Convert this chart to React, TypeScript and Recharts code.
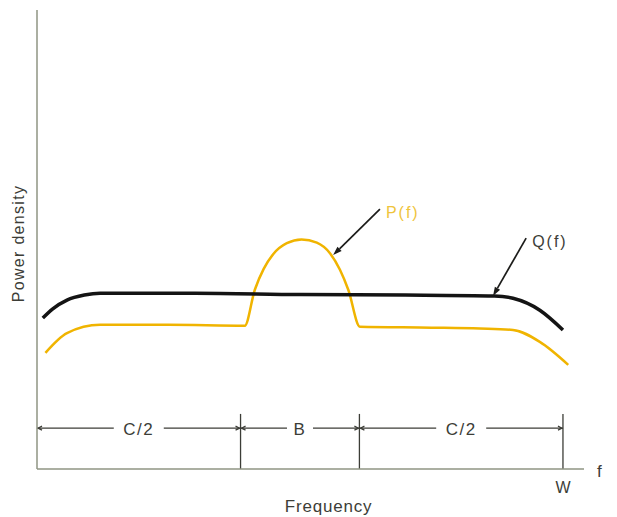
import { LineChart, Line, XAxis, YAxis, ReferenceLine, ReferenceDot } from 'recharts';

// Q(f): interference spread across the whole band
const qFreq = [1.1, 3, 5.7, 9, 12, 30, 50, 70, 87, 90.5, 95.6, 100];
const qPower = [32.9, 34.9, 36.8, 37.9, 38.3, 38.3, 38.0, 37.9, 37.7, 37.2, 34.6, 30.3];

// P(f): signal with a bump in the centre band
const pFreq = [1.6, 5.7, 12, 25, 39.5, 41.4, 43.1, 44.9, 47.5, 50.3, 53.2, 55.7, 57.6, 59.2, 61.4, 75, 84.2, 90.5, 95.6, 101];
const pPower = [25.3, 29.6, 31.4, 31.4, 31.2, 39.0, 43.6, 46.8, 49.2, 50.0, 49.3, 47.0, 43.4, 39.0, 31.0, 30.8, 30.6, 30.3, 27.7, 22.7];

// dimension line under the curves
const bandEdges = [0, 38.7, 61.3, 100];
const bandLabels = ['C/2', 'B', 'C/2'];
const bandLevel = 8.9;
const edgeTop = 12;

// callout arrows
const calloutLabels = ['P(f)', 'Q(f)'];
const calloutFrom = [[65.2, 56.6], [93.0, 50.3]];
const calloutTo = [[56.3, 46.6], [86.7, 37.7]];

const freqMax = 104;
const wTick = 100;

const INK = '#3c3d37';
const AXIS = '#8f9483';
const ORANGE = '#f0b400';
const FONT = '"Liberation Sans", Arial, sans-serif';

const qData = qFreq.map((f, i) => ({ f, p: qPower[i] }));
const pData = pFreq.map((f, i) => ({ f, p: pPower[i] }));

function BandSpan(props: any) {
  const { x1, y1, x2, text } = props;
  const mid = (x1 + x2) / 2;
  const half = 7 + text.length * 6;
  return (
    <g>
      <line x1={x1} y1={y1} x2={mid - half} y2={y1} stroke={INK} strokeWidth={1.3} />
      <line x1={mid + half} y1={y1} x2={x2} y2={y1} stroke={INK} strokeWidth={1.3} />
      <path d={`M${x1 + 5},${y1 - 2}L${x1 + 1},${y1}L${x1 + 5},${y1 + 2}`} fill="none" stroke={INK} strokeWidth={1.2} />
      <path d={`M${x2 - 5},${y1 - 2}L${x2 - 1},${y1}L${x2 - 5},${y1 + 2}`} fill="none" stroke={INK} strokeWidth={1.2} />
      <text x={mid} y={y1 + 1} textAnchor="middle" dominantBaseline="central" fill={INK}
        fontSize={17} letterSpacing={1.5} fontFamily={FONT}>{text}</text>
    </g>
  );
}

function Callout(props: any) {
  const { x1, y1, x2, y2, text, color } = props;
  const ang = Math.atan2(y2 - y1, x2 - x1);
  const len = 9;
  const w = 3;
  const bx = x2 - len * Math.cos(ang);
  const by = y2 - len * Math.sin(ang);
  const nx = -Math.sin(ang) * w;
  const ny = Math.cos(ang) * w;
  return (
    <g>
      <line x1={x1} y1={y1} x2={bx} y2={by} stroke="#1c1c1a" strokeWidth={1.7} />
      <polygon points={`${x2},${y2} ${bx + nx},${by + ny} ${bx - nx},${by - ny}`} fill="#1c1c1a" />
      <text x={x1 + 6} y={y1 + 3} dominantBaseline="central" fill={color}
        fontSize={16} letterSpacing={2} fontFamily={FONT}>{text}</text>
    </g>
  );
}

export default function App() {
  return (
    <div style={{ position: 'absolute', left: 0, top: 0, width: 617, height: 517, background: '#fff' }}>
      <LineChart width={617} height={517} margin={{ top: 10, right: 33, bottom: 47, left: 36 }}
        style={{ fontFamily: FONT }}>
        <XAxis type="number" dataKey="f" domain={[0, freqMax]} allowDataOverflow ticks={[wTick]}
          tickFormatter={() => 'W'} tickLine={false} height={1} tickMargin={7}
          tick={{ fill: INK, fontSize: 16 }} axisLine={{ stroke: AXIS, strokeWidth: 1.5 }}
          label={{ value: 'Frequency', position: 'center', dx: 18, dy: 36, fill: INK, fontSize: 17, letterSpacing: 0.8 }} />
        <YAxis type="number" domain={[0, 100]} allowDataOverflow width={1} tick={false} tickLine={false}
          axisLine={{ stroke: AXIS, strokeWidth: 1.5 }}
          label={{ value: 'Power density', angle: -90, position: 'center', dx: -18, dy: 4, fill: INK, fontSize: 16, letterSpacing: 1.3 }} />

        <Line data={pData} dataKey="p" type="monotone" stroke={ORANGE} strokeWidth={2.5}
          dot={false} activeDot={false} isAnimationActive={false} />
        <Line data={qData} dataKey="p" type="monotone" stroke="#141414" strokeWidth={3.5}
          dot={false} activeDot={false} isAnimationActive={false} />

        {bandLabels.map((text, i) => (
          <ReferenceLine key={`band-${i}`}
            segment={[{ x: bandEdges[i], y: bandLevel }, { x: bandEdges[i + 1], y: bandLevel }]}
            shape={(p: any) => <BandSpan {...p} text={text} />} />
        ))}
        {bandEdges.slice(1).map((x, i) => (
          <ReferenceLine key={`edge-${i}`} segment={[{ x, y: 0 }, { x, y: edgeTop }]}
            stroke={INK} strokeWidth={1.3} />
        ))}

        {calloutLabels.map((text, i) => (
          <ReferenceLine key={`call-${i}`}
            segment={[{ x: calloutFrom[i][0], y: calloutFrom[i][1] }, { x: calloutTo[i][0], y: calloutTo[i][1] }]}
            shape={(p: any) => <Callout {...p} text={text} color={i === 0 ? '#efc43c' : INK} />} />
        ))}

        <ReferenceDot x={freqMax} y={0} r={0} fill="none" stroke="none"
          label={{ value: 'f', position: 'right', offset: 13, dy: 2, fill: INK, fontSize: 17 }} />
      </LineChart>
    </div>
  );
}
